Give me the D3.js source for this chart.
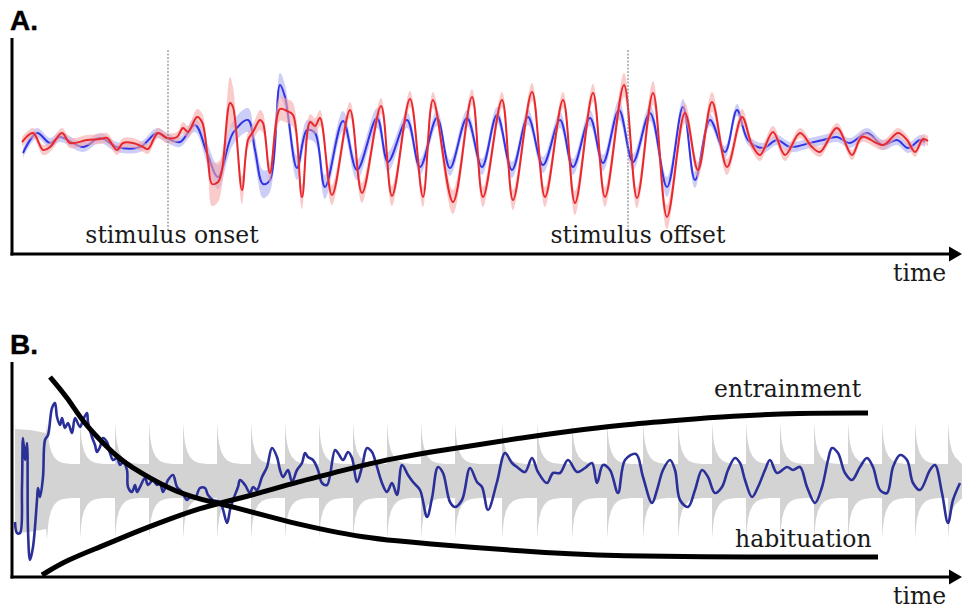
<!DOCTYPE html>
<html>
<head>
<meta charset="utf-8">
<script src="https://cdn.jsdelivr.net/npm/d3@7"></script>
<style>
  body { margin: 0; background: #fff; }
  svg { display: block; }
</style>
</head>
<body>
<svg id="fig" width="962" height="609"></svg>
<script>
// ---------- Panel A: averaged responses, rows are [time, amplitude, spread] ----------
const redTrace = [
  [22,-2,5],[33,7,5],[43,-10,5],[50,-7,5],[62,7,5],[70,-3,5],[87,0,5],[100,1,5],[107,2,5],
  [117,-10,5],[123,-3,5],[133,-3,5],[143,-7,5],[148,-9,5],[158,7,5],[167,2,5],[177,3,5],
  [183,12,6],[188,8,6],[197,23,8],[202,18,9],[208,-20,12],[212,-44,22],[218,-42,20],[222,-30,16],
  [230,37,26],[233,33,20],[242,-50,14],[248,0,8],[253,8,8],[260,20,10],[263,17,10],[270,-33,10],
  [280,31,12],[287,29,12],[293,25,12],[302,-57,12],[310,18,8],[315,14,8],[320,22,8],[332,-55,10],
  [350,30,8],[362,-53,10],[381,34,8],[392,-56,10],[410,41,8],[423,-57,10],[433,40,8],[453,-62,12],
  [472,43,8],[483,-57,10],[502,40,8],[513,-60,10],[532,48,9],[545,-57,10],[563,40,8],[575,-63,12],
  [593,47,9],[605,-57,10],[624,55,12],[637,-58,10],[653,47,12],[667,-77,12],[685,27,10],[698,-30,8],
  [712,38,10],[727,-27,8],[742,23,8],[752,-5,6],[760,-15,6],[773,8,6],[785,-15,6],[800,7,5],
  [812,-7,5],[820,-12,5],[837,12,5],[852,-15,5],[862,3,5],[883,-5,5],[898,7,5],[907,0,5],
  [915,-12,5],[923,1,5],[928,-1,5]
];
const blueTrace = [
  [23,-13,5],[37,7,5],[50,-3,5],[60,3,5],[83,-7,5],[100,2,5],[117,-7,5],[140,-7,5],[157,7,5],
  [167,2,5],[180,-2,5],[195,15,7],[207,-13,10],[218,-37,12],[233,7,12],[248,20,12],[255,-10,12],
  [263,-44,14],[270,-40,12],[280,55,12],[285,43,12],[297,-28,12],[307,10,10],[315,7,10],[325,-47,12],
  [343,19,10],[357,-30,10],[377,22,10],[388,-22,10],[407,20,8],[420,-27,8],[437,22,8],[450,-28,8],
  [467,22,8],[482,-27,8],[497,25,8],[512,-30,8],[528,23,8],[543,-25,8],[560,20,8],[573,-27,8],
  [590,22,8],[603,-23,8],[619,30,10],[633,-22,8],[650,27,8],[667,-47,10],[683,33,8],[695,-40,8],
  [710,20,6],[725,-12,6],[737,30,6],[748,0,5],[763,-8,5],[777,0,5],[790,-7,5],[810,-3,5],
  [823,0,5],[837,3,5],[850,-3,5],[867,7,5],[883,-5,5],[897,0,5],[908,-8,5],[920,0,5],[925,-2,5]
];
const stimulusMarks = [168, 628];
const stimulusLabels = ["stimulus onset", "stimulus offset"];

// ---------- Panel B: pulse-driven band, recorded trace, trend curves ----------
// opening burst before the regular pulses: [time, band half-width]
const openingBurst = [[15,52],[30,51],[46,48]];
const pulseOnsets = [47, 80, 115, 149, 183, 217, 251, 285, 319, 353, 387, 421, 455,
                     502, 537, 572, 607, 643, 678, 712, 746, 780, 814, 848, 882, 915, 948];
// [time since pulse, band half-width]
const pulseProfile = [[0,58],[1,46],[2,38],[4,30],[7,24],[11,20],[16,18],[24,17]];
const bandRest = 17;
const bandEnd = 962;

const neuralTrace = [
  [15,-41],[17,-52],[20,-52],[22,-6],[23,43],[25,21],[27,38],[28,-49],[30,-79],[33,-66],[37,-19],
  [38,-7],[40,-16],[43,4],[45,41],[48,46],[52,73],[55,78],[57,64],[60,56],[62,63],[65,53],[68,58],
  [72,48],[75,63],[80,54],[83,61],[87,68],[88,59],[92,44],[95,36],[97,29],[100,34],[103,43],[107,39],
  [110,28],[113,21],[117,23],[120,16],[123,19],[127,11],[128,-6],[132,-11],[135,-4],[137,-11],[140,-6],
  [145,3],[148,-4],[153,1],[157,-4],[160,-2],[163,-11],[168,1],[173,6],[177,-6],[182,-11],[187,-19],
  [190,-16],[195,-17],[200,-7],[205,-7],[208,-14],[213,-19],[220,-21],[227,-42],[230,-29],[233,-19],
  [238,-6],[240,1],[245,-4],[250,-12],[253,-6],[257,-9],[262,4],[267,14],[272,33],[277,24],[280,11],
  [283,4],[288,11],[292,-1],[297,11],[302,18],[305,28],[308,24],[313,21],[318,11],[322,-2],[327,-4],
  [335,31],[338,28],[343,21],[348,29],[352,23],[357,-1],[362,14],[367,33],[372,29],[375,21],[382,-2],
  [387,-11],[392,-2],[397,-14],[402,16],[408,6],[413,-1],[420,-9],[427,-36],[432,-17],[438,14],[443,8],
  [450,-21],[455,-26],[462,-19],[470,13],[477,-1],[482,-6],[488,-29],[497,-1],[505,28],[512,18],
  [517,14],[525,9],[532,23],[538,9],[547,-2],[553,8],[560,8],[568,21],[577,9],[585,13],[592,18],
  [597,-2],[603,16],[610,11],[618,-12],[625,21],[636,27],[643,4],[652,-22],[657,-9],[663,11],[670,21],
  [675,11],[680,-19],[688,-26],[695,-9],[702,11],[708,4],[715,-12],[722,-6],[728,11],[735,23],[740,18],
  [745,1],[752,-16],[758,-6],[765,11],[770,21],[777,8],[787,14],[793,11],[800,14],[807,-6],[815,-22],
  [822,-6],[828,21],[832,33],[838,28],[845,8],[852,1],[860,14],[867,23],[873,14],[880,-9],[887,-12],
  [893,14],[900,26],[907,21],[913,-2],[920,-9],[930,11],[935,16],[942,-12],[948,-42],[953,-19],[960,-2]
];
const habituation = [
  [50,104],[67,84],[83,59],[100,41],[117,24],[133,13],[150,3],[167,-6],[183,-13],[200,-18],[217,-22],
  [233,-26],[263,-34],[297,-43],[330,-50],[363,-56],[397,-60],[430,-63],[470,-66],[520,-70],
  [570,-73],[620,-75],[700,-76],[800,-76],[878,-76]
];
const entrainment = [
  [42,-94],[67,-79],[100,-66],[133,-52],[167,-39],[200,-27],[233,-19],[263,-11],[297,-1],[330,7],
  [363,16],[397,23],[430,29],[470,35],[520,43],[570,50],[620,56],[680,61],[730,65],[800,68],[868,68]
];

// ---------- drawing ----------
const svg = d3.select("#fig");
const serif = "'DejaVu Serif', serif";
const sans = "'Liberation Sans', Arial, sans-serif";

function frame(top, bottom, tag) {
  const g = svg.append("g");
  g.append("text").attr("x", 10).attr("y", top - 8)
    .attr("font-family", sans).attr("font-weight", "bold").attr("font-size", 28)
    .attr("stroke", "#000").attr("stroke-width", 0.4)
    .text(tag);
  g.append("line").attr("x1", 12).attr("x2", 12).attr("y1", top).attr("y2", bottom + 1.5)
    .attr("stroke", "#000").attr("stroke-width", 3);
  g.append("line").attr("x1", 10.5).attr("x2", 952).attr("y1", bottom).attr("y2", bottom)
    .attr("stroke", "#000").attr("stroke-width", 3);
  g.append("path")
    .attr("d", `M962,${bottom} L949,${bottom - 7.5} L949,${bottom + 7.5} Z`)
    .attr("fill", "#000");
  g.append("text").attr("x", 893).attr("y", bottom + 27)
    .attr("font-family", serif).attr("font-size", 23.5).attr("fill", "#1a1a1a")
    .text("time");
}

// Panel A
const xA = d3.scaleLinear().domain([12, 962]).range([12, 962]);
const yA = d3.scaleLinear().domain([-100, 100]).range([240, 40]);
frame(38, 254, "A.");

const curveA = d3.curveCatmullRom.alpha(0.5);
const bandA = d3.area().curve(curveA)
  .x(d => xA(d[0])).y0(d => yA(d[1] - d[2])).y1(d => yA(d[1] + d[2]));
const lineA = d3.line().curve(curveA).x(d => xA(d[0])).y(d => yA(d[1]));

const gA = svg.append("g");
gA.append("path").datum(blueTrace).attr("d", bandA).attr("fill", "#c3c6f6").attr("opacity", 0.85);
gA.append("path").datum(blueTrace).attr("d", lineA)
  .attr("fill", "none").attr("stroke", "#3333e6").attr("stroke-width", 2);
gA.append("path").datum(redTrace).attr("d", bandA).attr("fill", "#f6a9a9").attr("opacity", 0.6);
gA.append("path").datum(redTrace).attr("d", lineA)
  .attr("fill", "none").attr("stroke", "#e8282c").attr("stroke-width", 2);

stimulusMarks.forEach((t, i) => {
  gA.append("line").attr("x1", xA(t)).attr("x2", xA(t)).attr("y1", 50).attr("y2", 232)
    .attr("stroke", "#8a8a8a").attr("stroke-width", 1.2).attr("stroke-dasharray", "2,1.5");
  gA.append("text").attr("x", xA(t)).attr("y", 243).attr("text-anchor", "middle")
    .attr("font-family", serif).attr("font-size", 23.5).attr("fill", "#1a1a1a")
    .attr("dx", i === 0 ? 4 : 10)
    .text(stimulusLabels[i]);
});

// Panel B
const xB = d3.scaleLinear().domain([12, 962]).range([12, 962]);
const yB = d3.scaleLinear().domain([-100, 100]).range([581, 381]);
frame(362, 577, "B.");

// band envelope: opening burst, then each pulse with its decay profile
const envelope = openingBurst.slice();
pulseOnsets.forEach((t0, i) => {
  const tNext = i < pulseOnsets.length - 1 ? pulseOnsets[i + 1] : bandEnd;
  if (i > 0) envelope.push([t0, bandRest]);
  pulseProfile.forEach(([dt, hw]) => { if (t0 + dt < tNext) envelope.push([t0 + dt, hw]); });
  envelope.push([tNext, bandRest]);
});
const gB = svg.append("g");
gB.append("path").datum(envelope)
  .attr("d", d3.area().x(d => xB(d[0])).y0(d => yB(-d[1])).y1(d => yB(d[1])))
  .attr("fill", "#d3d3d3");

gB.append("path").datum(neuralTrace)
  .attr("d", d3.line().curve(d3.curveCatmullRom.alpha(0.5)).x(d => xB(d[0])).y(d => yB(d[1])))
  .attr("fill", "none").attr("stroke", "#2b3099").attr("stroke-width", 2.6)
  .attr("stroke-linejoin", "round");

const trend = d3.line().curve(d3.curveBasis).x(d => xB(d[0])).y(d => yB(d[1]));
gB.append("path").datum(habituation).attr("d", trend)
  .attr("fill", "none").attr("stroke", "#000").attr("stroke-width", 5);
gB.append("path").datum(entrainment).attr("d", trend)
  .attr("fill", "none").attr("stroke", "#000").attr("stroke-width", 5);

gB.append("text").attr("x", 714).attr("y", 397)
  .attr("font-family", serif).attr("font-size", 23.5).attr("fill", "#1a1a1a").text("entrainment");
gB.append("text").attr("x", 735).attr("y", 547)
  .attr("font-family", serif).attr("font-size", 23.5).attr("fill", "#1a1a1a").text("habituation");
</script>
</body>
</html>
